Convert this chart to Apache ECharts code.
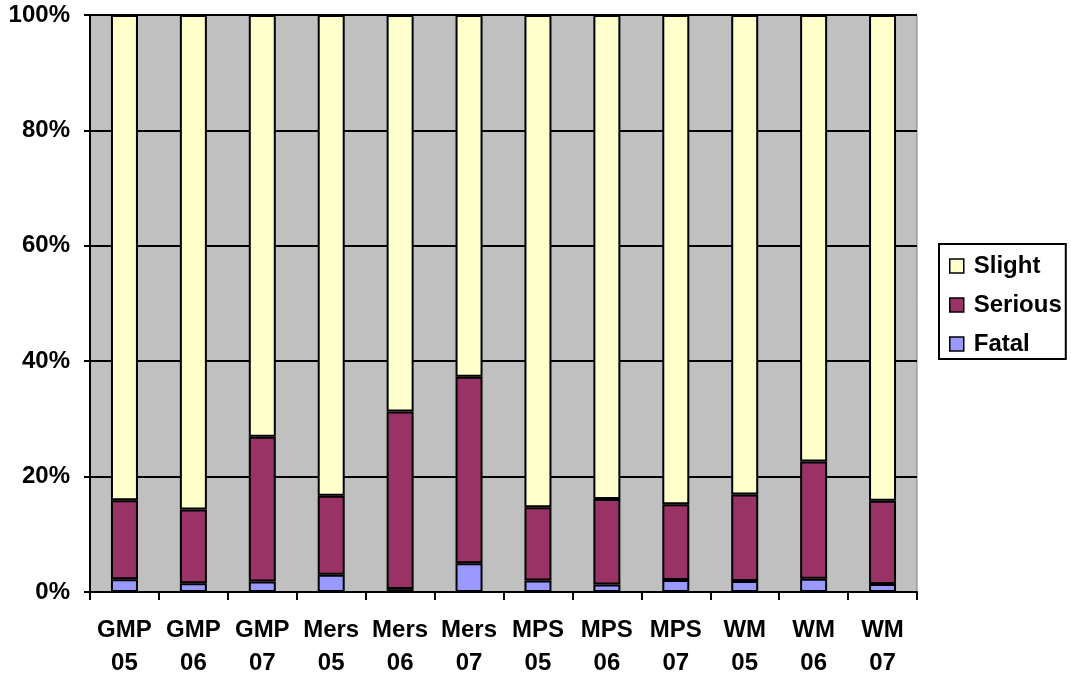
<!DOCTYPE html>
<html>
<head>
<meta charset="utf-8">
<script src="https://cdn.jsdelivr.net/npm/echarts@6/dist/echarts.min.js"></script>
<style>html,body{margin:0;padding:0;background:#fff;}#c{width:1071px;height:679px;}</style>
</head>
<body>
<div id="c"></div>
<script>
const categories = ['GMP\n05','GMP\n06','GMP\n07','Mers\n05','Mers\n06','Mers\n07','MPS\n05','MPS\n06','MPS\n07','WM\n05','WM\n06','WM\n07'];
const fatal   = [2.2, 1.5, 1.8, 3.0, 0.5, 5.0, 2.0, 1.3, 2.1, 1.9, 2.3, 1.4];
const serious = [13.7, 12.8, 25.1, 13.7, 30.8, 32.3, 12.7, 14.8, 13.1, 15.0, 20.3, 14.4];
const slight  = fatal.map((f, i) => +(100 - f - serious[i]).toFixed(1));
const yTicks = [0, 20, 40, 60, 80, 100];

const font = 'Liberation Sans, Arial, sans-serif';
const chart = echarts.init(document.getElementById('c'), null, {renderer: 'canvas'});
const mk = (name, data, color) => ({
  name, type: 'bar', stack: 'total', data, barWidth: 27,
  itemStyle: {color, borderColor: '#000', borderWidth: 2},
  emphasis: {disabled: true}
});
chart.setOption({
  animation: false,
  grid: {left: 90, right: 154, top: 15, bottom: 87, containLabel: false, outerBoundsMode: 'none',
         backgroundColor: '#c0c0c0', show: true, borderColor: '#808080', borderWidth: 1},
  legend: {
    orient: 'vertical', left: 939, top: 244,
    data: ['Slight', 'Serious', 'Fatal'],
    icon: 'rect',
    borderColor: '#000', borderWidth: 2,
    padding: [10, 4, 3, 10],
    itemWidth: 14, itemHeight: 14, itemGap: 15,
    itemStyle: {borderColor: '#000', borderWidth: 1.5},
    textStyle: {fontFamily: font, fontWeight: 'bold', fontSize: 24, color: '#000', lineHeight: 24, padding: [0, 0, 0, 5]}
  },
  xAxis: {
    type: 'category', data: categories,
    axisLine: {lineStyle: {color: '#000', width: 2}},
    axisTick: {show: true, length: 8, lineStyle: {color: '#000', width: 2}, alignWithLabel: false},
    axisLabel: {fontFamily: font, fontWeight: 'bold', fontSize: 24, color: '#000', lineHeight: 33, margin: 22, interval: 0}
  },
  yAxis: {
    type: 'value', min: yTicks[0], max: yTicks[yTicks.length - 1], interval: 20,
    axisLine: {show: true, lineStyle: {color: '#000', width: 2}},
    axisTick: {show: true, length: 6, lineStyle: {color: '#000', width: 2}},
    splitLine: {show: true, lineStyle: {color: '#000', width: 2}},
    axisLabel: {fontFamily: font, fontWeight: 'bold', fontSize: 24, color: '#000', margin: 20, formatter: '{value}%'}
  },
  series: [
    mk('Fatal', fatal, '#9999ff'),
    mk('Serious', serious, '#993366'),
    mk('Slight', slight, '#ffffcc')
  ]
});
</script>
</body>
</html>
